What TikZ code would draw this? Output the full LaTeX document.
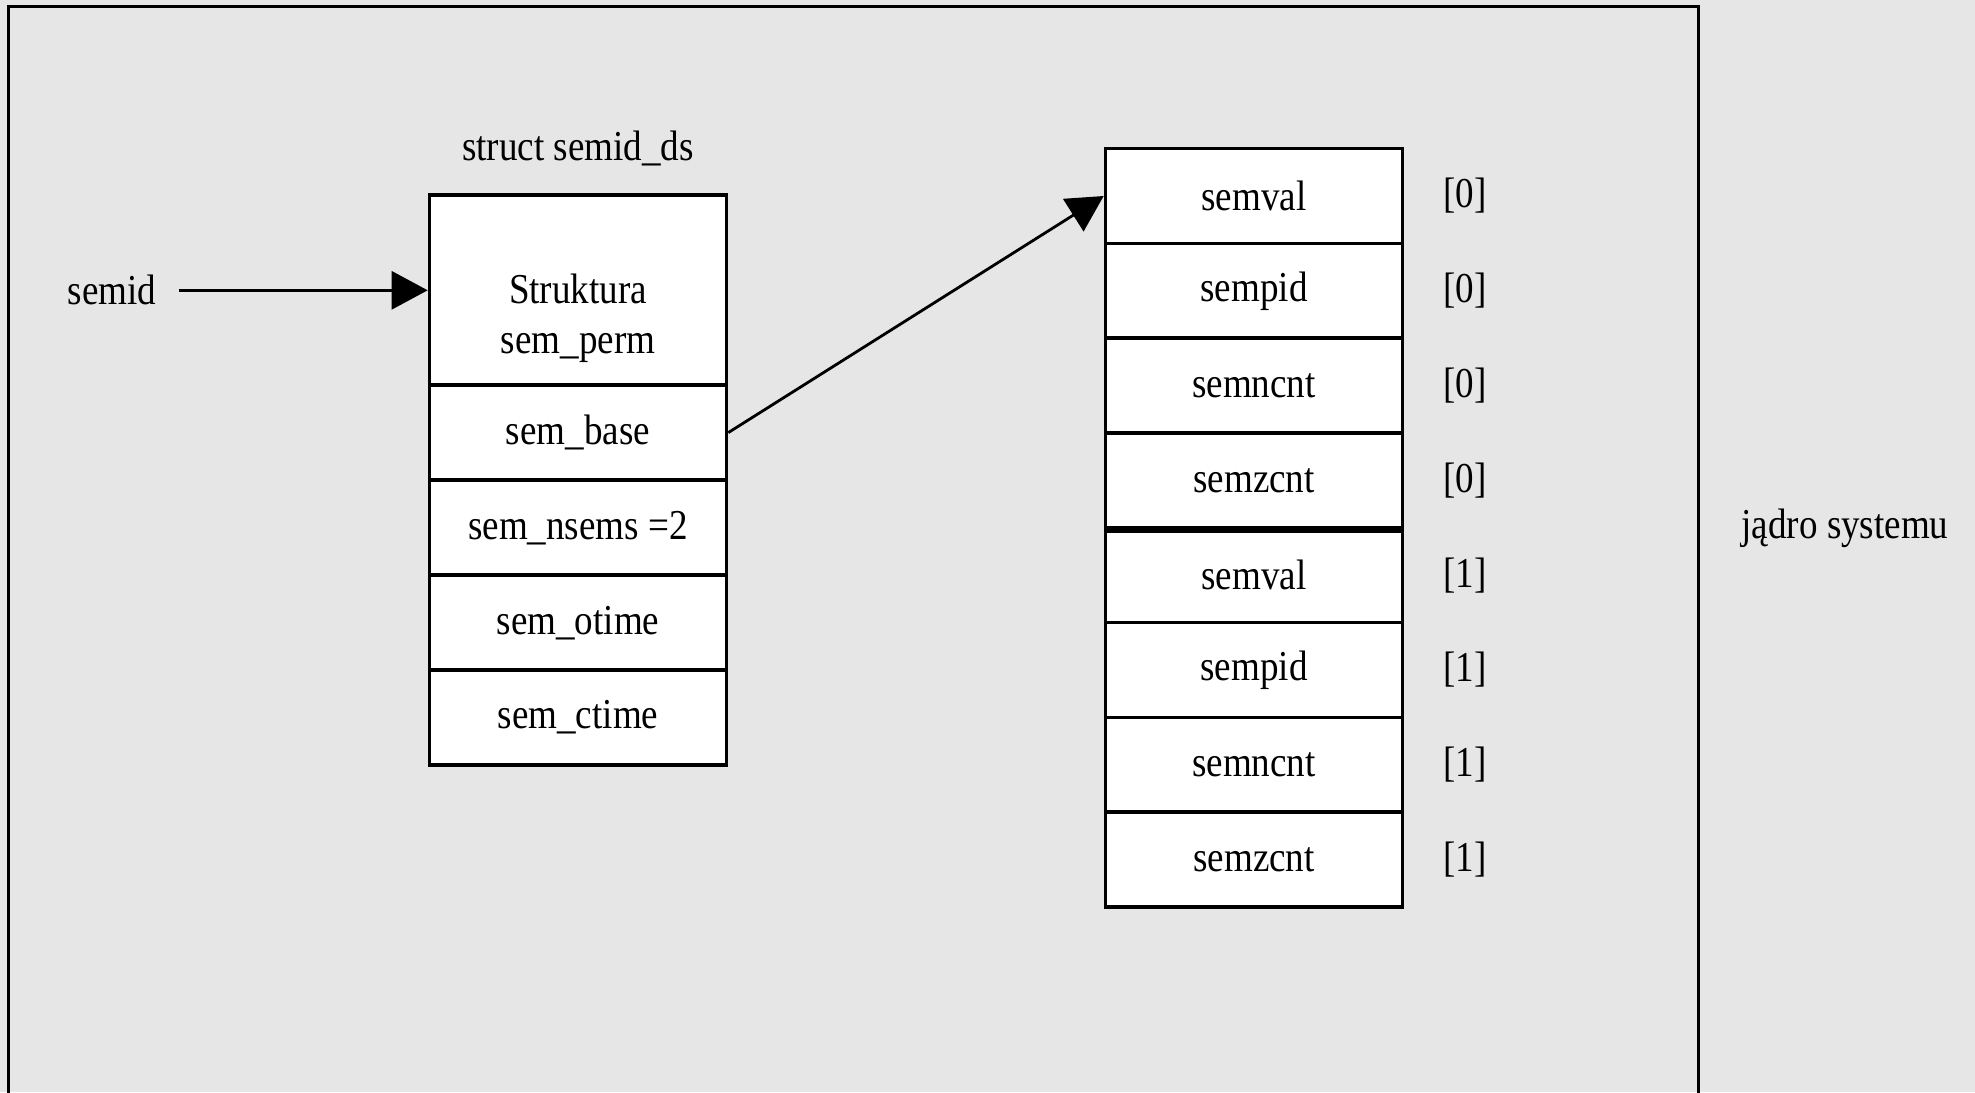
\documentclass[tikz,border=0pt]{standalone}
\usepackage{fontspec}
\setmainfont[FakeStretch=0.87]{Liberation Serif}
\usetikzlibrary{arrows.meta}
\definecolor{bgmarble}{RGB}{230,230,230}
\tikzset{
  cell/.style={draw=black, line width=1.8pt, fill=white, minimum width=148.5pt, minimum height=47.4pt, inner sep=0pt, anchor=center},
  lbl/.style={inner sep=3pt},
  arr/.style={line width=1.4pt, -{Triangle[length=18pt,width=19pt]}},
  frame/.style={draw=black, line width=1.5pt}
}
\begin{document}
\begin{tikzpicture}[x=0.5pt,y=-0.5pt, every node/.style={font=\fontsize{21.3}{25}\selectfont}]
\useasboundingbox (0,0) rectangle (1975,1092);
\clip (0,0) rectangle (1975,1092);
\fill[bgmarble] (0,0) rectangle (1975,1092);
\draw[frame] (8.8,6.3) rectangle (1698,1110);

% struct semid_ds
\node[lbl] (title) at (578,148) {struct semid\_ds};
\node[cell, minimum height=95.1pt] (perm) at (578,290.3) {};
\node[lbl, align=center] (permtext) at (578,318) {Struktura\\sem\_perm};
\node[cell] (base) at (578,432.6) {sem\_base};
\node[cell] (nsems) at (578,527.8) {sem\_nsems =2};
\node[cell] (otime) at (578,622.9) {sem\_otime};
\node[cell] (ctime) at (578,717.4) {sem\_ctime};

% semaphore array
\foreach \i/\t/\k in {0/semval/0,1/sempid/0,2/semncnt/0,3/semzcnt/0,4/semval/1,5/sempid/1,6/semncnt/1,7/semzcnt/1}{
  \node[cell] (a\i) at (1254,{196+94.8*\i}) {\t};
  \node[lbl] (l\i) at (1465,{196+94.8*\i}) {[\k]};
}
\draw[line width=3.2pt] (a3.south west) -- (a3.south east);

% labels
\node[lbl] (semid) at (112,290) {semid};
\node[lbl] (kernel) at (1845,528) {jądro systemu};

% connectors
\draw[arr, shorten <=8pt] (semid.east |- perm.west) -- (perm.west);
\draw[arr] (base.east) -- (a0.west);
\end{tikzpicture}
\end{document}
